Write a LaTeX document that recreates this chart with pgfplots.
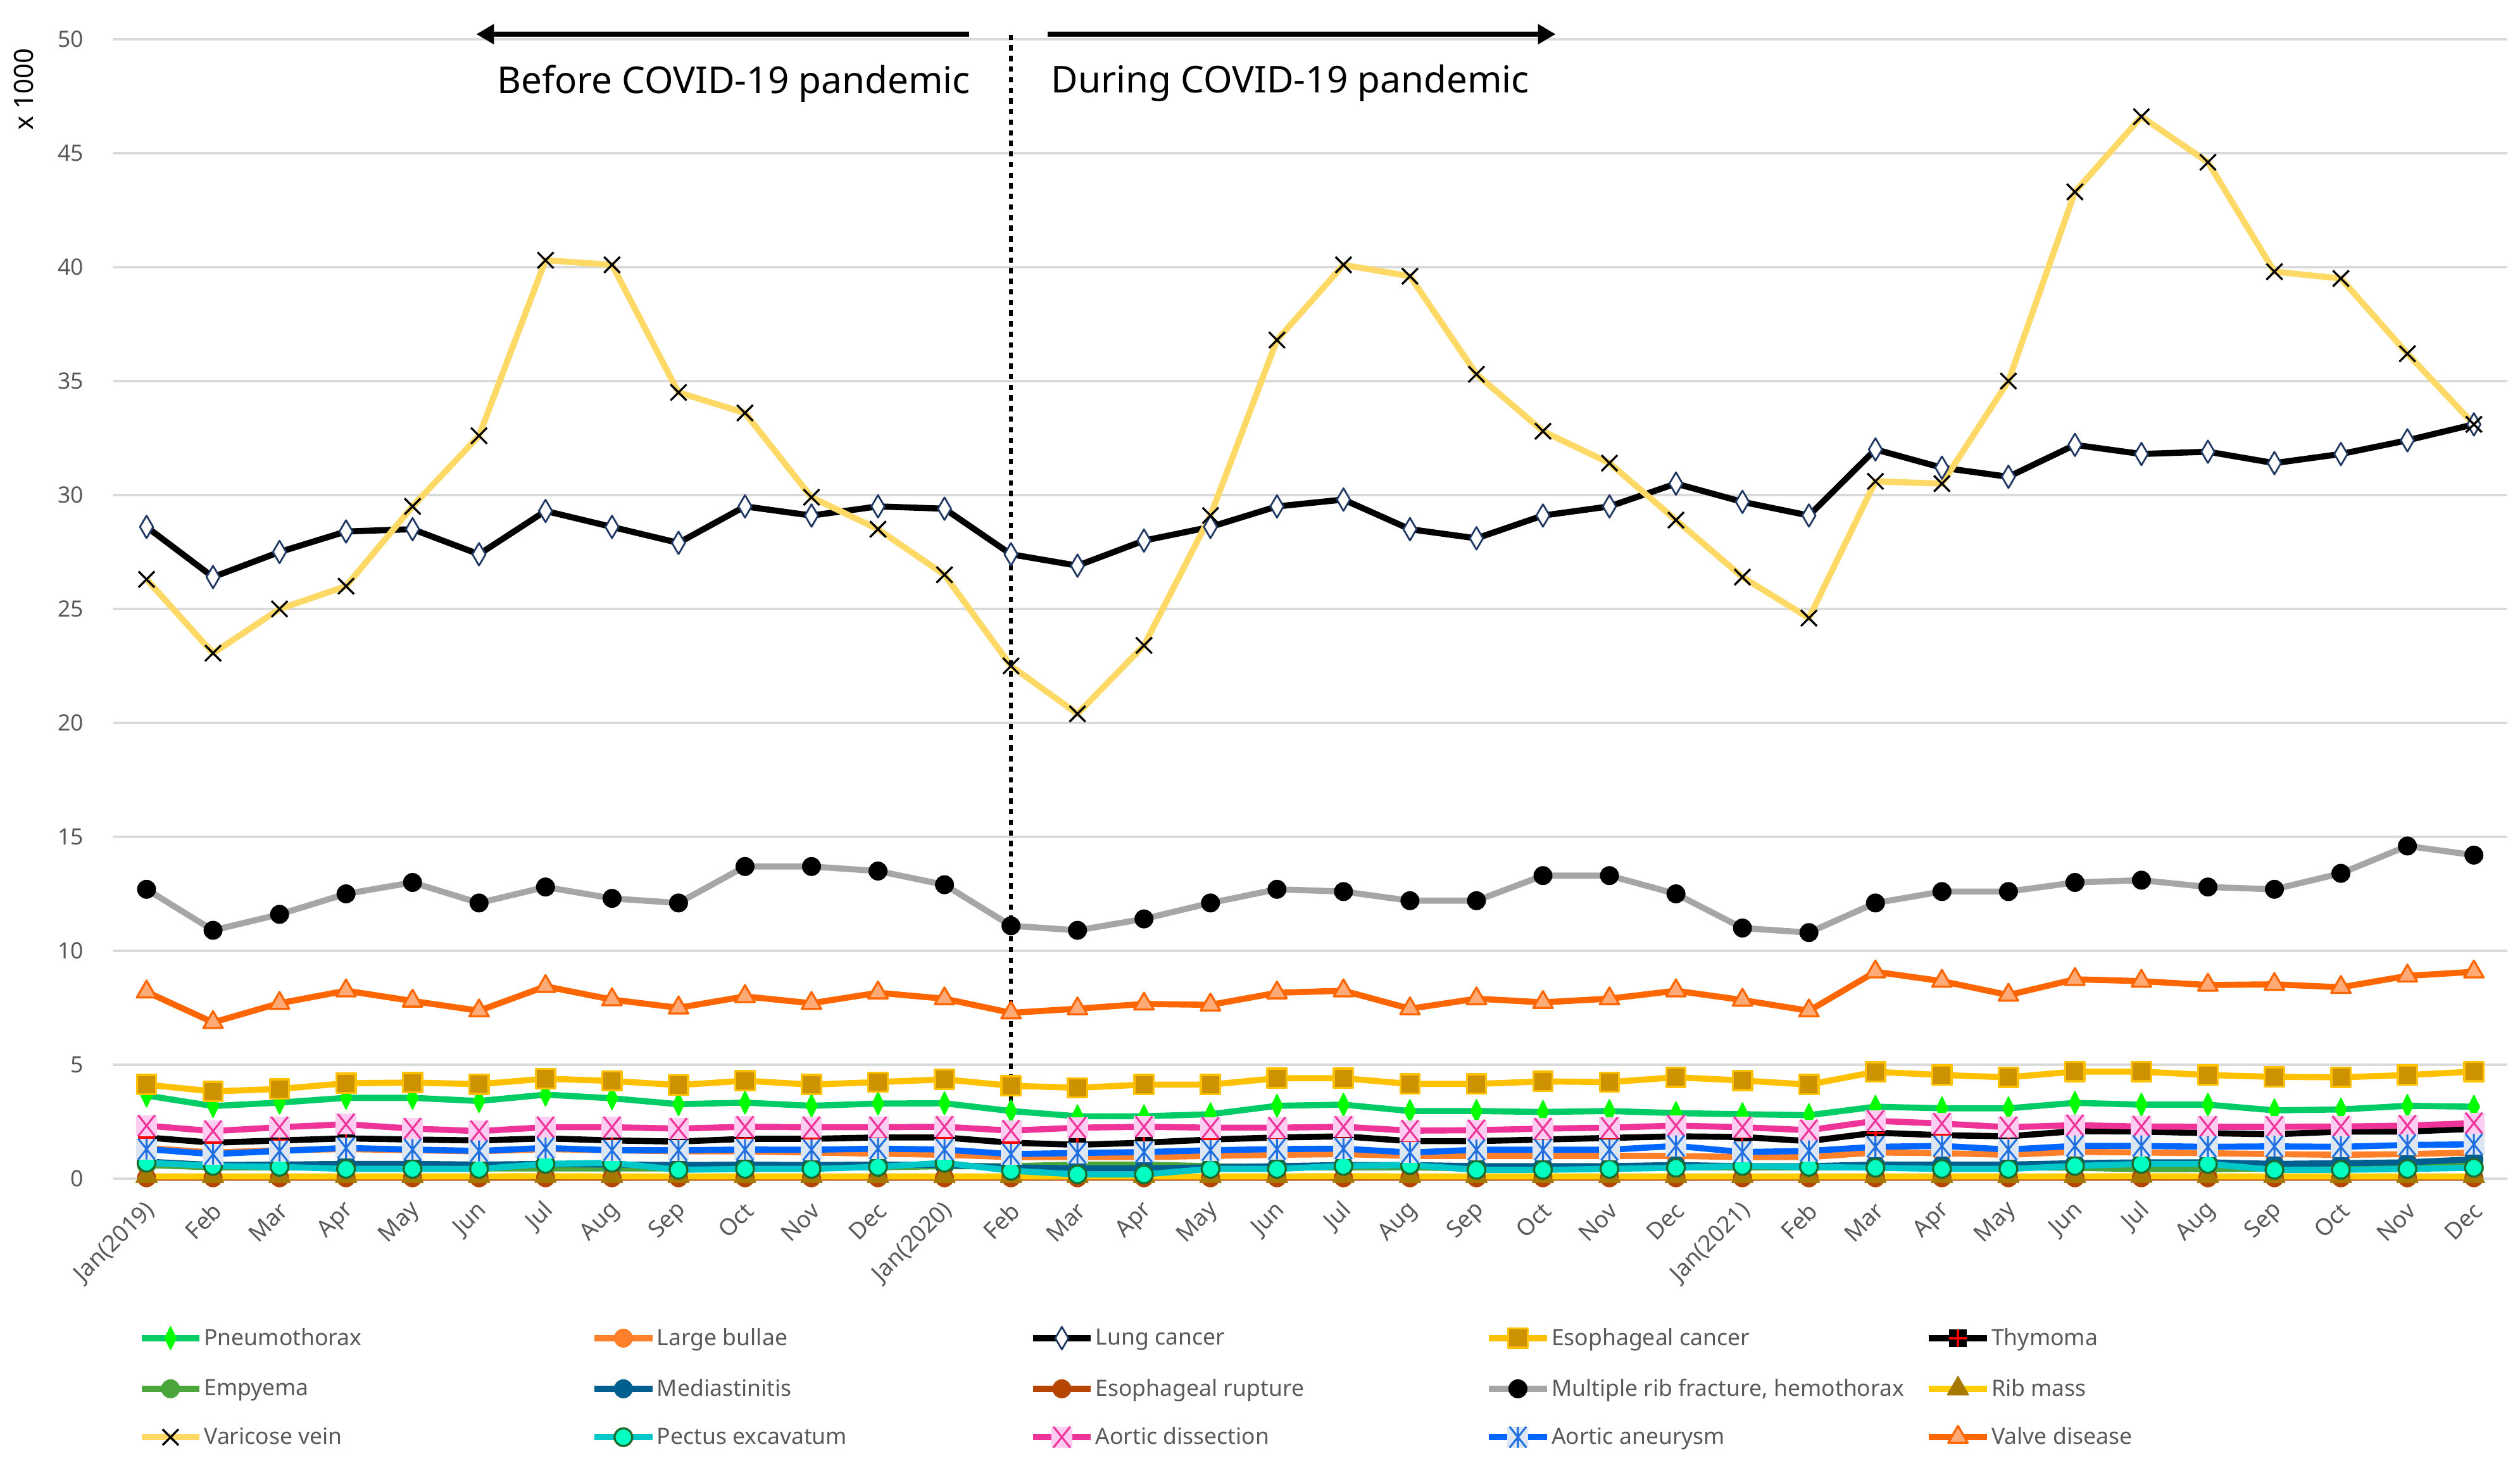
\documentclass[border=0pt]{standalone}
\usepackage{fontspec}
\setmainfont{Noto Sans}
\usepackage{pgfplots}
\pgfplotsset{compat=1.18}
\usepackage{pgfplotstable}
\usetikzlibrary{arrows.meta}

\definecolor{gridgray}{HTML}{D9D9D9}
\definecolor{ticktext}{HTML}{595959}
\definecolor{pneuL}{HTML}{00CC66}
\definecolor{pneuM}{HTML}{00FF00}
\definecolor{bullL}{HTML}{FF7F2A}
\definecolor{lungM}{HTML}{1F3864}
\definecolor{esocL}{HTML}{FFC000}
\definecolor{esocM}{HTML}{CC9200}
\definecolor{empL}{HTML}{4AA63A}
\definecolor{medL}{HTML}{005F8F}
\definecolor{ruptL}{HTML}{B54500}
\definecolor{ribL}{HTML}{A6A6A6}
\definecolor{ribmL}{HTML}{FFCC00}
\definecolor{ribmM}{HTML}{A67800}
\definecolor{variL}{HTML}{FFD966}
\definecolor{pectL}{HTML}{00C8C8}
\definecolor{pectM}{HTML}{00FFC0}
\definecolor{pectO}{HTML}{1E6B2E}
\definecolor{dissL}{HTML}{EE3399}
\definecolor{dissM}{HTML}{FFCCF2}
\definecolor{aneuL}{HTML}{0066FF}
\definecolor{aneuM}{HTML}{DCE6F2}
\definecolor{aneuX}{HTML}{1F6FE0}
\definecolor{valveL}{HTML}{FF6600}
\definecolor{valveM}{HTML}{FFAA77}

% box with an X (aortic dissection)
\pgfdeclareplotmark{boxx}{%
  \pgfpathrectangle{\pgfqpoint{-\pgfplotmarksize}{-\pgfplotmarksize}}{\pgfqpoint{2\pgfplotmarksize}{2\pgfplotmarksize}}%
  \pgfusepathqfill
  \pgfpathmoveto{\pgfqpoint{-0.8\pgfplotmarksize}{-\pgfplotmarksize}}%
  \pgfpathlineto{\pgfqpoint{0.8\pgfplotmarksize}{\pgfplotmarksize}}%
  \pgfpathmoveto{\pgfqpoint{-0.8\pgfplotmarksize}{\pgfplotmarksize}}%
  \pgfpathlineto{\pgfqpoint{0.8\pgfplotmarksize}{-\pgfplotmarksize}}%
  \pgfusepathqstroke
}
% box with an asterisk (aortic aneurysm)
\pgfdeclareplotmark{boxast}{%
  \pgfpathrectangle{\pgfqpoint{-\pgfplotmarksize}{-\pgfplotmarksize}}{\pgfqpoint{2\pgfplotmarksize}{2\pgfplotmarksize}}%
  \pgfusepathqfill
  \pgfpathmoveto{\pgfqpoint{-0.8\pgfplotmarksize}{-\pgfplotmarksize}}%
  \pgfpathlineto{\pgfqpoint{0.8\pgfplotmarksize}{\pgfplotmarksize}}%
  \pgfpathmoveto{\pgfqpoint{-0.8\pgfplotmarksize}{\pgfplotmarksize}}%
  \pgfpathlineto{\pgfqpoint{0.8\pgfplotmarksize}{-\pgfplotmarksize}}%
  \pgfpathmoveto{\pgfqpoint{0pt}{-\pgfplotmarksize}}%
  \pgfpathlineto{\pgfqpoint{0pt}{\pgfplotmarksize}}%
  \pgfusepathqstroke
}
% black square with a red plus (thymoma)
\pgfdeclareplotmark{sqplus}{%
  \pgfpathrectangle{\pgfqpoint{-\pgfplotmarksize}{-\pgfplotmarksize}}{\pgfqpoint{2\pgfplotmarksize}{2\pgfplotmarksize}}%
  \pgfusepathqfill
  \pgfpathmoveto{\pgfqpoint{-\pgfplotmarksize}{0pt}}%
  \pgfpathlineto{\pgfqpoint{\pgfplotmarksize}{0pt}}%
  \pgfpathmoveto{\pgfqpoint{0pt}{-\pgfplotmarksize}}%
  \pgfpathlineto{\pgfqpoint{0pt}{\pgfplotmarksize}}%
  \pgfusepathqstroke
}

\newcommand{\lc}[2]{\makebox[#1][l]{#2}}

% monthly counts (x 1000), Jan 2019 .. Dec 2021
\pgfplotstableread{
i  pneu bull lung esoc thym emp  med  rupt rib  ribm vari  pect diss aneu valve
0  3.65 1.35 28.6 4.13 1.81 0.60 0.75 0.04 12.7 0.10 26.3  0.70 2.33 1.30 8.20
1  3.19 1.15 26.4 3.83 1.58 0.50 0.60 0.04 10.9 0.10 23.06 0.56 2.09 1.08 6.86
2  3.34 1.25 27.5 3.94 1.68 0.50 0.62 0.04 11.6 0.10 25.0  0.52 2.26 1.22 7.70
3  3.55 1.30 28.4 4.19 1.77 0.48 0.65 0.04 12.5 0.10 26.0  0.43 2.39 1.35 8.25
4  3.55 1.25 28.5 4.22 1.72 0.48 0.65 0.04 13.0 0.10 29.5  0.43 2.20 1.28 7.80
5  3.41 1.20 27.4 4.15 1.68 0.45 0.62 0.04 12.1 0.10 32.6  0.43 2.09 1.22 7.37
6  3.69 1.30 29.3 4.39 1.77 0.45 0.65 0.04 12.8 0.11 40.3  0.65 2.26 1.35 8.44
7  3.53 1.25 28.6 4.29 1.68 0.45 0.62 0.04 12.3 0.10 40.1  0.70 2.26 1.25 7.86
8  3.27 1.20 27.9 4.11 1.63 0.45 0.60 0.04 12.1 0.10 34.5  0.39 2.20 1.25 7.50
9  3.34 1.20 29.5 4.30 1.75 0.48 0.62 0.04 13.7 0.10 33.6  0.43 2.28 1.28 8.00
10 3.20 1.15 29.1 4.13 1.75 0.50 0.60 0.04 13.7 0.10 29.9  0.43 2.26 1.27 7.70
11 3.30 1.10 29.5 4.24 1.81 0.50 0.62 0.04 13.5 0.10 28.5  0.52 2.26 1.32 8.16
12 3.31 1.05 29.4 4.36 1.81 0.55 0.60 0.04 12.9 0.10 26.5  0.70 2.28 1.28 7.90
13 2.97 0.95 27.4 4.08 1.58 0.55 0.50 0.04 11.1 0.10 22.5  0.35 2.11 1.08 7.28
14 2.74 0.95 26.9 3.99 1.49 0.62 0.45 0.04 10.9 0.10 20.4  0.19 2.24 1.13 7.46
15 2.74 0.95 28.0 4.13 1.58 0.62 0.45 0.04 11.4 0.10 23.4  0.19 2.28 1.17 7.67
16 2.83 1.00 28.6 4.13 1.72 0.55 0.50 0.04 12.1 0.10 29.1  0.43 2.24 1.25 7.63
17 3.20 1.05 29.5 4.41 1.81 0.50 0.55 0.04 12.7 0.10 36.8  0.43 2.24 1.30 8.16
18 3.25 1.08 29.8 4.41 1.86 0.50 0.60 0.04 12.6 0.11 40.1  0.56 2.28 1.32 8.25
19 2.97 1.00 28.5 4.16 1.65 0.50 0.60 0.04 12.2 0.10 39.6  0.60 2.11 1.15 7.46
20 2.97 1.00 28.1 4.16 1.65 0.45 0.55 0.04 12.2 0.10 35.3  0.39 2.13 1.27 7.90
21 2.93 1.00 29.1 4.27 1.72 0.45 0.55 0.04 13.3 0.10 32.8  0.39 2.20 1.27 7.74
22 2.97 1.00 29.5 4.24 1.79 0.48 0.55 0.04 13.3 0.10 31.4  0.43 2.24 1.27 7.90
23 2.88 1.00 30.5 4.45 1.86 0.50 0.60 0.04 12.5 0.10 28.9  0.48 2.33 1.44 8.25
24 2.83 0.95 29.7 4.31 1.83 0.50 0.55 0.04 11.0 0.10 26.4  0.56 2.26 1.17 7.84
25 2.79 0.95 29.1 4.13 1.65 0.50 0.55 0.04 10.8 0.10 24.6  0.52 2.13 1.22 7.37
26 3.16 1.15 32.0 4.69 2.02 0.50 0.62 0.04 12.1 0.10 30.6  0.48 2.54 1.40 9.08
27 3.09 1.12 31.2 4.55 1.91 0.50 0.62 0.04 12.6 0.10 30.5  0.43 2.42 1.44 8.67
28 3.09 1.05 30.8 4.45 1.86 0.50 0.62 0.04 12.6 0.10 35.0  0.43 2.26 1.28 8.06
29 3.33 1.18 32.2 4.70 2.09 0.48 0.68 0.04 13.0 0.10 43.3  0.56 2.35 1.44 8.75
30 3.25 1.15 31.8 4.70 2.07 0.42 0.72 0.04 13.1 0.11 46.6  0.65 2.29 1.44 8.67
31 3.25 1.12 31.9 4.55 2.00 0.42 0.72 0.04 12.8 0.10 44.6  0.65 2.28 1.40 8.50
32 3.00 1.08 31.4 4.47 1.95 0.45 0.65 0.04 12.7 0.10 39.8  0.39 2.28 1.42 8.53
33 3.04 1.05 31.8 4.45 2.07 0.50 0.68 0.04 13.4 0.10 39.5  0.39 2.29 1.40 8.40
34 3.20 1.08 32.4 4.55 2.07 0.55 0.72 0.04 14.6 0.10 36.2  0.43 2.33 1.48 8.90
35 3.16 1.15 33.1 4.70 2.19 0.60 0.85 0.04 14.2 0.10 33.1  0.48 2.44 1.51 9.08
}\data

\begin{document}
\begin{tikzpicture}[line join=round, line cap=round]
\begin{axis}[
    width=1489.5bp, height=709bp, scale only axis,
    xmin=-0.5, xmax=35.5, ymin=0, ymax=50,
    xtick={0,...,35},
    xticklabels={Jan(2019),Feb,Mar,Apr,May,Jun,Jul,Aug,Sep,Oct,Nov,Dec,
                 Jan(2020),Feb,Mar,Apr,May,Jun,Jul,Aug,Sep,Oct,Nov,Dec,
                 Jan(2021),Feb,Mar,Apr,May,Jun,Jul,Aug,Sep,Oct,Nov,Dec},
    ytick={0,5,...,50},
    major tick length=0pt,
    axis line style={draw=none},
    ymajorgrids, grid style={color=gridgray, line width=1.5bp},
    /pgf/number format/assume math mode=true,
    yticklabel style={font=\fontsize{14bp}{16bp}\selectfont, text=ticktext, xshift=-15bp},
    xticklabel style={font=\fontsize{14.5bp}{17bp}\selectfont, text=ticktext,
        xshift=5bp, yshift=-15bp, rotate=45, anchor=east},
    clip=false,
    legend columns=5,
    legend cell align=left,
    legend style={at={(axis description cs:0,0)}, anchor=north west,
        xshift=15.5bp, yshift=-92bp, draw=none, fill=none, inner sep=0pt,
        font=\fontsize{14bp}{16bp}\selectfont, text=ticktext,
        nodes={inner sep=0pt},
        /tikz/row sep=17bp,
        /tikz/every odd column/.append style={column sep=1bp}},
    legend image code/.code={\draw[mark repeat=2, mark phase=2, #1]
        plot coordinates {(0bp,0bp) (18bp,0bp) (36bp,0bp)};},
    every axis plot/.append style={line width=3.8bp},
]
\addplot[pneuL, mark=diamond*, mark size=7bp, mark options={fill=pneuM, draw=pneuM, line width=0.8bp, xscale=0.65}] table[x=i, y=pneu] {\data};
\addlegendentry{\lc{241bp}{Pneumothorax}}
\addplot[bullL, mark=*, mark size=5.5bp, mark options={fill=bullL, draw=bullL, line width=0.8bp}] table[x=i, y=bull] {\data};
\addlegendentry{\lc{232bp}{Large bullae}}
\addplot[black, mark=diamond*, mark size=7bp, mark options={fill=white, draw=lungM, line width=1.1bp, xscale=0.78}] table[x=i, y=lung] {\data};
\addlegendentry{\lc{243bp}{Lung cancer}}
\addplot[esocL, mark=square*, mark size=6bp, mark options={fill=esocM, draw=esocL, line width=1.3bp}] table[x=i, y=esoc] {\data};
\addlegendentry{\lc{233bp}{Esophageal cancer}}
\addplot[black, mark=sqplus, mark size=5.5bp, mark options={fill=black, draw=red, line width=1.4bp}] table[x=i, y=thym] {\data};
\addlegendentry{Thymoma}
\addplot[empL, mark=*, mark size=5.5bp, mark options={fill=empL, draw=empL, line width=0.8bp}] table[x=i, y=emp] {\data};
\addlegendentry{\lc{241bp}{Empyema}}
\addplot[medL, mark=*, mark size=5.5bp, mark options={fill=medL, draw=medL, line width=0.8bp}] table[x=i, y=med] {\data};
\addlegendentry{\lc{232bp}{Mediastinitis}}
\addplot[ruptL, mark=*, mark size=5.5bp, mark options={fill=ruptL, draw=ruptL, line width=0.8bp}] table[x=i, y=rupt] {\data};
\addlegendentry{\lc{243bp}{Esophageal rupture}}
\addplot[ribL, mark=*, mark size=5.5bp, mark options={fill=black, draw=black, line width=0.8bp}] table[x=i, y=rib] {\data};
\addlegendentry{\lc{233bp}{Multiple rib fracture, hemothorax}}
\addplot[ribmL, mark=triangle*, mark size=7.5bp, mark options={fill=ribmM, draw=ribmM, line width=0.8bp}] table[x=i, y=ribm] {\data};
\addlegendentry{Rib mass}
\addplot[variL, mark=x, mark size=7bp, mark options={draw=black, line width=1.3bp}] table[x=i, y=vari] {\data};
\addlegendentry{\lc{241bp}{Varicose vein}}
\addplot[pectL, mark=*, mark size=5.5bp, mark options={fill=pectM, draw=pectO, line width=1.3bp}] table[x=i, y=pect] {\data};
\addlegendentry{\lc{232bp}{Pectus excavatum}}
\addplot[dissL, mark=boxx, mark size=6.5bp, mark options={fill=dissM, draw=dissL, line width=1.2bp}] table[x=i, y=diss] {\data};
\addlegendentry{\lc{243bp}{Aortic dissection}}
\addplot[aneuL, mark=boxast, mark size=6.5bp, mark options={fill=aneuM, draw=aneuX, line width=1.2bp}] table[x=i, y=aneu] {\data};
\addlegendentry{\lc{233bp}{Aortic aneurysm}}
\addplot[valveL, mark=triangle*, mark size=7bp, mark options={fill=valveM, draw=valveL, line width=1.3bp}] table[x=i, y=valve] {\data};
\addlegendentry{Valve disease}

% period annotations
\draw[black, line width=2.6bp, line cap=butt, dash pattern=on 3.3bp off 3.3bp] (axis cs:13,50.2) -- (axis cs:13,0);
\draw[black, line width=3.3bp, line cap=butt, -{Triangle[length=11bp,width=12bp]}] (axis cs:12.37,50.22) -- (axis cs:4.96,50.22);
\draw[black, line width=3.3bp, line cap=butt, -{Triangle[length=11bp,width=12bp]}] (axis cs:13.55,50.22) -- (axis cs:21.19,50.22);
\node[font=\fontsize{23bp}{27bp}\selectfont] at (axis cs:8.83,48.06) {Before COVID-19 pandemic};
\node[font=\fontsize{23bp}{27bp}\selectfont] at (axis cs:17.2,48.06) {During COVID-19 pandemic};
\node[rotate=90, font=\fontsize{16.5bp}{19bp}\selectfont] at (axis description cs:-0.0373,0.956) {x 1000};
\end{axis}
\pgfresetboundingbox
\path ([shift={(-70.5bp,-179.6bp)}]current axis.south west) rectangle ([shift={(1497.5bp,733.4bp)}]current axis.south west);
\end{tikzpicture}
\end{document}
